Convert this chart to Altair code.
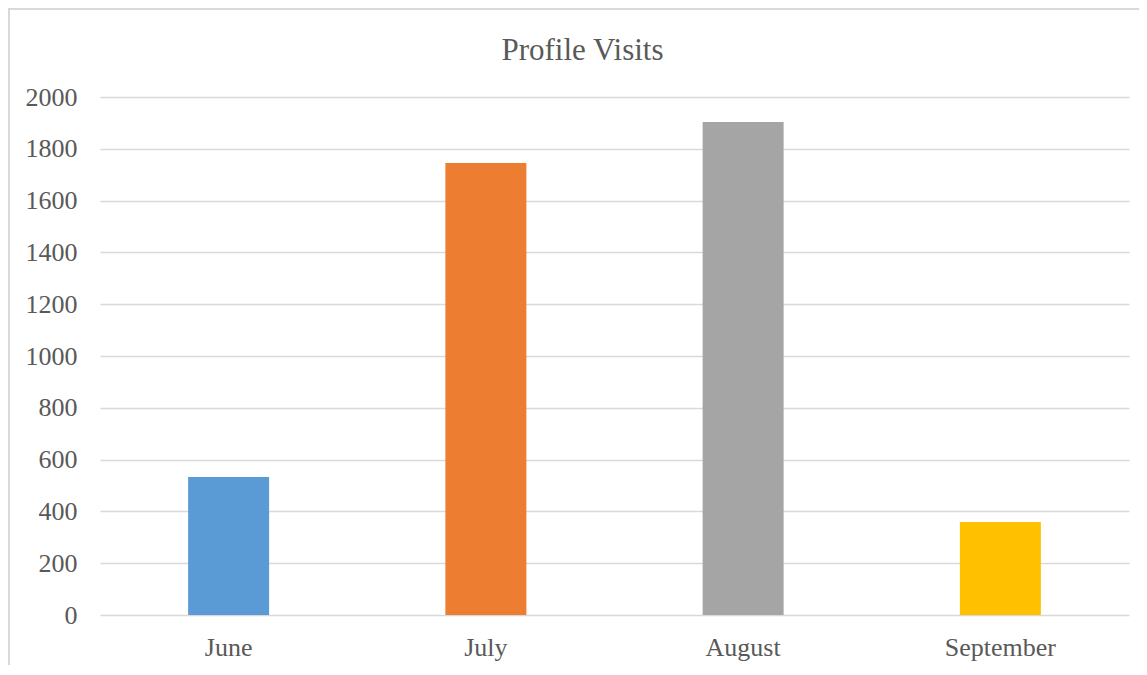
import altair as alt
import pandas as pd

months = ["June", "July", "August", "September"]
visits = [533, 1745, 1903, 359]
colors = ["#5B9BD5", "#ED7D31", "#A5A5A5", "#FFC000"]
y_ticks = [0, 200, 400, 600, 800, 1000, 1200, 1400, 1600, 1800, 2000]

df = pd.DataFrame({"month": months, "visits": visits})

FONT = "Liberation Serif"
TEXT = "#595959"
GRID = "#D9D9D9"

bars = alt.Chart(df).mark_bar(size=81).encode(
    x=alt.X("month:N", sort=months, title=None,
            scale=alt.Scale(paddingInner=0.3, paddingOuter=0.15),
            axis=alt.Axis(labelAngle=0, ticks=False, tickSize=0, domain=False,
                          labelFont=FONT, labelFontSize=26, labelColor=TEXT,
                          labelPadding=19, grid=False)),
    y=alt.Y("visits:Q", title=None,
            scale=alt.Scale(domain=[0, 2000], nice=False),
            axis=alt.Axis(values=y_ticks, format="d", ticks=False, tickSize=0, domain=False,
                          labelFont=FONT, labelFontSize=26, labelColor=TEXT,
                          labelPadding=23, gridColor=GRID, gridWidth=1.5)),
    color=alt.Color("month:N", sort=months,
                    scale=alt.Scale(domain=months, range=colors), legend=None),
)

frame_left = alt.Chart(df).mark_rule(color=GRID, strokeWidth=2).encode(
    x=alt.value(-91), y=alt.value(-89), y2=alt.value(568)
)
frame_top = alt.Chart(df).mark_rule(color=GRID, strokeWidth=2).encode(
    x=alt.value(-91), x2=alt.value(1039), y=alt.value(-88)
)

chart = alt.layer(frame_left, frame_top, bars).properties(
    width=1029,
    height=518,
    title=alt.TitleParams("Profile Visits", font=FONT, fontSize=31, color=TEXT,
                          fontWeight="normal", anchor="middle", dx=-32, dy=122,
                          baseline="alphabetic", offset=38),
    padding={"left": 92, "top": 89, "right": 10, "bottom": 50},
    autosize=alt.AutoSizeParams(type="none"),
).configure_view(stroke=None)

chart.save("out.html", embed_options={"renderer": "svg", "actions": False})
